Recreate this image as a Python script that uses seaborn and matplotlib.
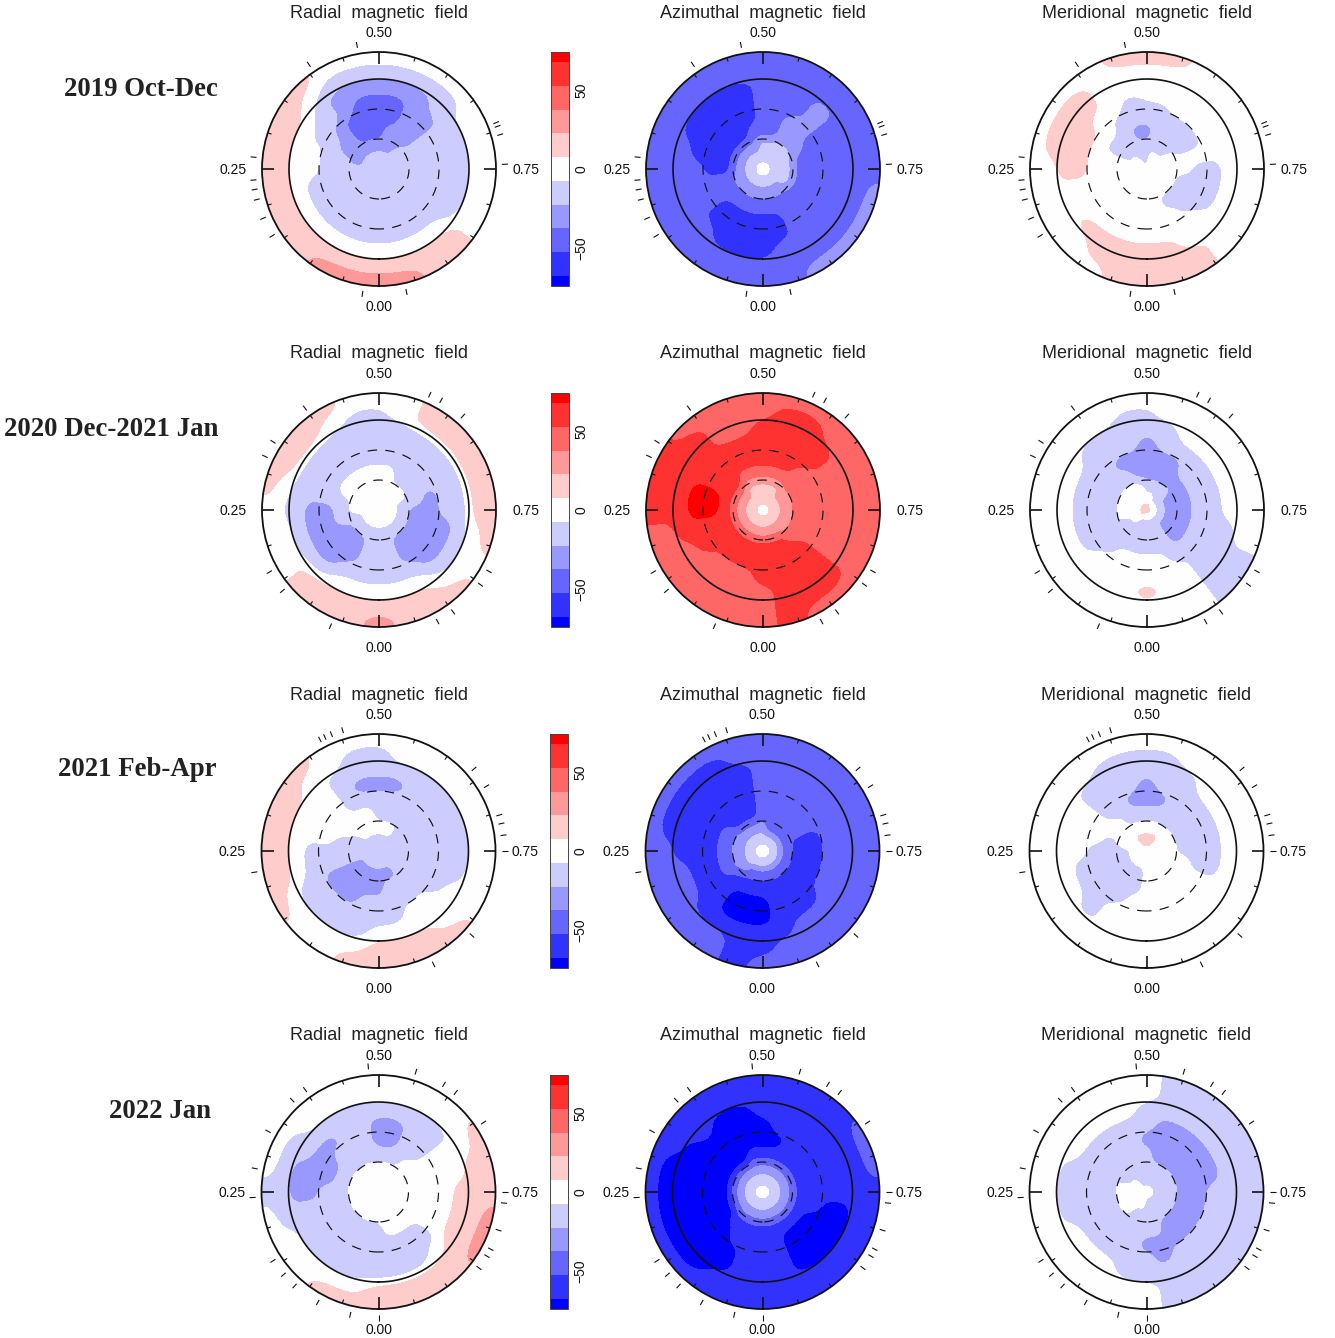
import numpy as np
import matplotlib
matplotlib.use("Agg")
import matplotlib.pyplot as plt
from matplotlib.colors import ListedColormap, BoundaryNorm
from matplotlib.ticker import FixedLocator
import seaborn as sns

sns.set_theme(style="white")
plt.rcParams['font.family'] = ['Liberation Sans', 'DejaVu Sans']

# Field bands in units of 15 G. Each panel: 8 rings (centre to edge), 24 phases (0/24 .. 23/24).
rad19 = [
 [-1,-1,-1,-1,-1,-1,-1,-1,-1,-1,-1,-1,-1,-1,-1,-1,-1,-1,-1,-1,-1,-1,-1,-1],
 [-1,-1,-1,-1,-1,-1,-1,-2,-2,-2,-2,-2,-2,-2,-2,-1,-1,-1,-1,-1,-1,-1,-1,-1],
 [-1,-1,-1,-1,-1,-1,-1,-1,-2,-2,-3,-3,-3,-2,-2,-2,-1,-1,-1,-1,-1,-1,-1,-1],
 [-1,-1,-1,-1,-1,-1,-1,-1,-1,-2,-3,-3,-3,-3,-2,-2,-1,-1,-1,-1,-1,-1,-1,-1],
 [-1,-1,-1,-1,-1,-1, 0, 0,-1,-1,-2,-3,-3,-3,-2,-2,-1,-1,-1,-1,-1,-1,-1,-1],
 [ 0, 0, 0, 0, 0, 0, 0, 0, 0,-1,-2,-2,-2,-2,-2,-1,-1,-1,-1,-1,-1, 0, 0, 0],
 [ 1, 1, 1, 1, 1, 1, 1, 1, 1, 0,-1,-1,-1,-1,-1,-1, 0, 0, 0, 0, 0, 1, 1, 1],
 [ 2, 2, 2, 1, 1, 1, 1, 1, 1, 1, 0, 0, 0, 0, 0, 0, 0, 0, 0, 0, 0, 1, 1, 2],
]
azi19 = [
 [-1,-1,-1,-1,-1,-1,-1,-1,-1,-1,-1,-1,-1,-1,-1,-1,-1,-1,-1,-1,-1,-1,-1,-1],
 [-2,-2,-2,-2,-2,-2,-2,-2,-2,-2,-2,-2,-1,-1,-1,-1,-1,-1,-1,-1,-1,-2,-2,-2],
 [-3,-3,-3,-3,-3,-3,-4,-4,-4,-4,-4,-3,-3,-3,-2,-2,-2,-3,-3,-3,-3,-3,-3,-3],
 [-4,-4,-4,-4,-3,-3,-4,-4,-4,-4,-4,-4,-3,-3,-2,-2,-3,-3,-3,-3,-3,-3,-3,-4],
 [-4,-4,-4,-4,-3,-3,-3,-4,-4,-4,-4,-4,-3,-3,-3,-2,-3,-3,-3,-3,-3,-3,-3,-4],
 [-4,-4,-4,-3,-3,-3,-3,-3,-4,-4,-4,-4,-3,-3,-3,-2,-3,-3,-3,-3,-3,-3,-3,-3],
 [-3,-3,-3,-3,-3,-3,-3,-3,-3,-3,-3,-3,-3,-3,-3,-3,-3,-3,-3,-3,-3,-3,-3,-3],
 [-3,-3,-3,-3,-3,-3,-3,-3,-3,-3,-3,-3,-3,-3,-3,-3,-3,-3,-3,-2,-2,-2,-2,-3],
]
mer19 = [
 [ 0, 0, 0, 0, 0, 0, 0, 0, 0, 0,-1,-1,-1, 0, 0, 0, 0, 0, 0, 0, 0, 0, 0, 0],
 [ 0, 0, 0, 0, 0, 0, 0, 0,-1,-1,-1,-1,-1,-1,-1,-1, 0, 0, 0, 0, 0, 0, 0, 0],
 [ 0, 0, 0, 0, 0, 0, 0, 0,-1,-1,-1,-2,-2,-1,-1,-1,-1, 0, 0,-1,-1,-1,-1, 0],
 [ 0, 0, 0, 0, 0, 0, 0, 0, 0, 0,-1,-1,-1,-1,-1,-1,-1, 0,-1,-1,-1,-1, 0, 0],
 [ 0, 0, 0, 0, 0, 0, 1, 1, 1, 0, 0,-1,-.5,-.5,0, 0, 0, 0,-1,-1,-1, 0, 0, 0],
 [ 1, 1, 1, 1, 0, 0, 1, 1, 1, 1, 0, 0, 0, 0, 0, 0, 0, 0, 0, 0, 0, 0, 0, 1],
 [ 1, 1, 1, 0, 0, 0, 0, 1, 1, 1, 0, 0, 0, 0, 0, 0, 0, 0, 0, 0, 0, 0, 1, 1],
 [ 1, 1, 0, 0, 0, 0, 0, 0, 0, 0, 0, 1, 1, 1, 0, 0, 0, 0, 0, 0, 0, 0, 1, 1],
]
rad20 = [
 [ 0, 0, 0, 0, 0, 0, 0, 0, 0, 0, 0, 0, 0, 0, 0, 0, 0, 0, 0, 0, 0, 0, 0, 0],
 [-1,-1,-1,-1,-1,-1, 0, 0, 0, 0, 0, 0, 0, 0, 0, 0, 0,-1,-1,-1,-1,-1,-1,-1],
 [-1,-1,-2,-2,-2,-1,-1,-1, 0, 0, 0, 0, 0, 0,-1,-1,-1,-1,-2,-2,-2,-2,-2,-1],
 [-1,-1,-2,-2,-2,-2,-2,-1,-1,-1,-1,-1,-1,-1,-1,-1,-1,-2,-2,-2,-2,-2,-2,-1],
 [-1,-1,-1,-2,-2,-2,-2,-1,-1,-1,-1,-1,-1,-1,-1,-1,-1,-1,-1,-2,-2,-2,-1,-1],
 [ 0, 0, 0,-1,-1,-1,-1,-1,-1,-1,-1,-1,-1,-1,-1,-1,-1,-1,-1,-1,-1,-1, 0, 0],
 [ 1, 1, 1, 1, 0, 0,-.5,0, 1, 1, 0,-.7,-.7,0, 1, 1, 1, 1, 1, 0, 0, 0, 1, 1],
 [ 2, 1, 1, 1, 0, 0, 0, 1, 1, 1, 1, 0, 0, 0, 1, 1, 1, 1, 1, 1, 0, 1, 1, 1],
]
azi20 = [
 [ 1, 1, 1, 1, 1, 1, 1, 1, 1, 1, 1, 1, 1, 1, 1, 1, 1, 1, 1, 1, 1, 1, 1, 1],
 [ 2, 2, 2, 2, 2, 2, 2, 2, 2, 2, 1, 1, 1, 1, 1, 2, 2, 2, 2, 2, 2, 2, 2, 2],
 [ 4, 4, 4, 4, 4, 4, 4, 4, 4, 4, 3, 3, 3, 3, 3, 3, 3, 3, 3, 3, 3, 3, 4, 4],
 [ 4, 4, 4, 4, 4, 4, 5, 5, 4, 4, 4, 4, 4, 4, 4, 3, 3, 3, 3, 3, 3, 4, 4, 4],
 [ 4, 3, 3, 3, 4, 4, 5, 5, 4, 4, 4, 4, 4, 4, 4, 4, 3, 3, 3, 3, 3, 4, 4, 4],
 [ 3, 3, 3, 3, 3, 4, 4, 4, 4, 4, 3, 3, 4, 4, 4, 4, 3, 3, 3, 3, 3, 4, 4, 4],
 [ 3, 3, 3, 3, 3, 3, 4, 4, 4, 4, 3, 3, 3, 4, 4, 3, 3, 3, 3, 3, 3, 4, 4, 4],
 [ 3, 3, 3, 3, 3, 3, 4, 4, 4, 3, 3, 3, 3, 3, 3, 3, 3, 3, 3, 3, 3, 3, 3, 4],
]
mer20 = [
 [-1,-1,-1, 0, 0, 0, 0, 0, 0, 0, 0, 0, 0, 0,-1,-1,-1,-1,-1,-1,-1,-1,-1,-1],
 [-1,-1,-1,-1,-1, 0, 0, 0, 0, 0, 0, 0,-1,-1,-1,-1,-2,-2,-2,-2,-2,-2,-1,-1],
 [-1,-1,-1,-1,-1,-1,-1,-1,-1,-1,-1,-2,-2,-2,-2,-2,-2,-2,-2,-2,-2,-2,-1,-1],
 [ 0, 0, 0,-1,-1,-1,-1,-1,-1,-1,-2,-2,-2,-2,-2,-1,-1,-1,-1,-1,-1,-1,-1, 0],
 [ 0, 0, 0, 0,-1,-1,-1,-1,-1,-1,-1,-1,-2,-1,-1,-1,-1,-1,-1,-1,-1,-1, 0, 0],
 [ 1, 0, 0, 0, 0, 0, 0, 0, 0,-1,-1,-1,-1,-1, 0, 0, 0, 0, 0,-1,-1,-1, 0, 0],
 [ 0, 0, 0, 0, 0, 0, 0, 0, 0, 0, 0,-.7,-.7,0, 0, 0, 0, 0, 0, 0,-1,-1, 0, 0],
 [ 0, 0, 0, 0, 0, 0, 0, 0, 0, 0, 0, 0, 0, 0, 0, 0, 0, 0, 0, 0,-1,-1, 0, 0],
]
rad21 = [
 [-1,-1,-1,-1,-1,-1,-1,-1,-1,-1,-1,-1,-1,-1,-1,-1,-1,-1,-1,-1,-1,-1,-1,-1],
 [-2,-2,-2,-2,-2,-1,-1,-1,-1, 0, 0, 0, 0, 0, 0,-1,-1,-1,-1,-1,-1,-1,-2,-2],
 [-2,-2,-2,-2,-2,-1,-1,-1, 0, 0, 0, 0,-1,-1,-1,-1,-1,-1,-1,-1,-1,-1,-1,-1],
 [-1,-1,-2,-2,-2,-1,-1, 0, 0, 0,-1,-1,-1,-1,-1,-1,-1,-1,-1,-1,-1,-1,-1,-1],
 [-1,-1,-1,-1,-1,-1,-1, 0, 0, 0,-1,-2,-2,-2,-1,-1,-1,-1,-1,-1,-1, 0, 0,-1],
 [ 0,-1,-1,-1,-1, 0, 0, 0, 0, 0,-1,-1,-1,-1,-1,-1,-1,-1,-1,-1, 0, 0, 0, 0],
 [ 1, 0, 0, 0, 0, 1, 1, 1, 1, 0, 0,-1,-1, 0, 0, 0, 0, 0, 0, 0, 0, 0, 1, 1],
 [ 1, 1, 0, 0, 1, 1, 1, 1, 1, 1, 0, 0, 0, 0, 0, 0, 0, 0, 0, 0, 0, 1, 1, 1],
]
azi21 = [
 [-1,-1,-1,-1,-1,-1,-1,-1,-1,-1,-1,-1,-1,-1,-1,-1,-1,-1,-1,-1,-1,-1,-1,-1],
 [-3,-3,-3,-2,-2,-2,-2,-2,-2,-2,-2,-2,-2,-3,-3,-3,-3,-3,-3,-3,-3,-3,-3,-3],
 [-4,-4,-4,-4,-3,-3,-3,-3,-3,-4,-4,-4,-3,-3,-3,-3,-3,-4,-4,-4,-4,-4,-4,-4],
 [-5,-5,-5,-4,-4,-4,-4,-4,-4,-4,-4,-4,-3,-3,-3,-3,-3,-4,-4,-4,-4,-4,-4,-4],
 [-5,-5,-5,-4,-4,-4,-4,-4,-4,-4,-4,-4,-3,-3,-3,-3,-3,-3,-3,-3,-3,-4,-4,-4],
 [-4,-4,-4,-4,-3,-3,-4,-4,-4,-4,-4,-4,-3,-3,-3,-3,-3,-3,-3,-3,-3,-3,-3,-4],
 [-4,-4,-3,-3,-3,-3,-3,-4,-4,-4,-4,-3,-3,-3,-3,-3,-3,-3,-3,-3,-3,-3,-3,-3],
 [-3,-4,-3,-3,-3,-3,-3,-3,-3,-3,-3,-3,-3,-3,-3,-3,-3,-3,-3,-3,-3,-3,-3,-3],
]
mer21 = [
 [ 0, 0, 0, 0, 0, 0, 0, 0, 0, 0, 1, 1, 1, 1, 1, 0, 0, 0, 0, 0, 0, 0, 0, 0],
 [ 0,-1,-1,-1,-1,-1,-1, 0, 0, 0, 0, 0, 0, 0, 0, 0, 0, 0, 0, 0, 0, 0, 0, 0],
 [ 0,-1,-1,-1,-1,-1,-1,-1, 0, 0,-1,-1,-1,-1,-1,-1,-1,-1,-1, 0, 0, 0, 0, 0],
 [ 0, 0,-1,-1,-1,-1,-1, 0, 0,-1,-1,-2,-2,-2,-1,-1,-1,-1,-1,-1, 0, 0, 0, 0],
 [ 0, 0, 0,-1,-1,-1, 0, 0, 0,-1,-1,-1,-2,-1,-1,-1,-1,-1,-1,-1, 0, 0, 0, 0],
 [ 0, 0, 0,-1, 0, 0, 0, 0, 0,-1,-1,-1,-1,-1,-1, 0, 0, 0, 0, 0, 0, 0, 0, 0],
 [ 0, 0, 0, 0, 0, 0, 0, 0, 0, 0,-.6,-.7,-.7,-.7,0, 0, 0, 0, 0, 0, 0, 0, 0, 0],
 [ 0, 0, 0, 0, 0, 0, 0, 0, 0, 0, 0, 0, 0, 0, 0, 0, 0, 0, 0, 0, 0, 0, 0, 0],
]
rad22 = [
 [ 0, 0, 0, 0, 0, 0, 0, 0, 0, 0, 0, 0, 0, 0, 0, 0, 0, 0, 0, 0, 0, 0, 0, 0],
 [ 0, 0, 0, 0, 0, 0, 0, 0, 0, 0, 0, 0, 0, 0, 0, 0, 0, 0, 0, 0, 0, 0, 0, 0],
 [-1,-1,-1,-1,-1,-1,-1,-1,-1,-1,-1,-1,-1,-1,-1, 0, 0, 0, 0, 0, 0, 0, 0, 0],
 [-1,-1,-1,-1,-1,-1,-1,-2,-2,-1,-1,-1,-2,-2,-1,-1, 0, 0, 0, 0, 0,-1,-1,-1],
 [-1,-1,-1,-1,-1,-1,-2,-2,-2,-2,-1,-1,-2,-2,-1,-1, 0, 0, 0, 0, 0,-1,-1,-1],
 [-1,-1,-1,-1,-1,-1,-2,-2,-1,-1,-1,-1,-1,-1,-1,-1, 0, 0, 1, 1, 1, 0,-1,-1],
 [ 1, 0, 0, 0, 0,-1,-1,-1,-1, 0, 0, 0, 0, 0, 0, 0, 0, 1, 1, 1, 1, 1, 1, 1],
 [ 1, 1, 1, 0, 0, 0,-1, 0, 0, 0, 0, 0, 0, 0, 0, 0, 1, 1, 1, 2, 2, 1, 1, 1],
]
azi22 = [
 [-1,-1,-1,-1,-1,-1,-1,-1,-1,-1,-1,-1,-1,-1,-1,-1,-1,-1,-1,-1,-1,-1,-1,-1],
 [-2,-2,-2,-2,-2,-2,-2,-2,-2,-2,-2,-2,-2,-2,-2,-2,-2,-2,-2,-2,-2,-2,-2,-2],
 [-4,-4,-4,-4,-5,-5,-5,-5,-5,-5,-5,-4,-4,-4,-4,-4,-4,-4,-4,-4,-4,-4,-4,-4],
 [-4,-4,-4,-5,-5,-5,-5,-5,-5,-5,-5,-5,-5,-5,-4,-4,-4,-4,-4,-4,-5,-5,-5,-4],
 [-4,-4,-5,-5,-5,-5,-5,-5,-5,-5,-5,-5,-5,-4,-4,-4,-4,-4,-4,-5,-5,-5,-5,-4],
 [-4,-4,-5,-5,-5,-5,-5,-5,-5,-4,-5,-5,-4,-4,-4,-4,-4,-4,-4,-5,-5,-5,-5,-4],
 [-4,-4,-4,-5,-5,-5,-5,-5,-4,-4,-4,-4,-4,-4,-4,-4,-4,-4,-4,-4,-4,-4,-4,-4],
 [-4,-4,-4,-4,-4,-4,-4,-4,-4,-4,-4,-4,-4,-4,-4,-4,-3,-3,-4,-4,-4,-4,-4,-4],
]
mer22 = [
 [-1, 0, 0, 0, 0, 0, 0, 0, 0, 0,-1,-1,-1,-1,-1,-1,-1,-1,-1,-1,-1,-1,-1,-1],
 [-1,-1,-1, 0, 0, 0, 0, 0,-1,-1,-1,-1,-1,-1,-1,-1,-1,-1,-1,-1,-1,-1,-1,-1],
 [-1,-1,-1,-1,-1,-1,-1,-1,-1,-1,-1,-1,-1,-2,-2,-2,-2,-2,-2,-2,-2,-2,-2,-1],
 [-2,-1,-1,-1,-1,-1,-1,-1,-1,-1,-1,-1,-2,-2,-2,-2,-2,-2,-2,-2,-2,-2,-2,-2],
 [-1,-1,-1,-1,-1,-1,-1,-1,-1,-1,-1,-1,-1,-2,-2,-2,-2,-2,-1,-1,-1,-1,-1,-2],
 [-1,-1, 0, 0, 0,-1,-1,-1, 0, 0, 0, 0,-1,-1,-1,-1,-1,-1,-1,-1,-1,-1,-1,-1],
 [ 0, 0, 0, 0, 0, 0, 0, 0, 0, 0, 0, 0, 0,-1,-1,-1,-1,-1,-1,-1,-1,-1,-1,-1],
 [ 0, 0, 0, 0, 0, 0, 0, 0, 0, 0, 0, 0, 0,-1,-1,-1,-1,-1,-1,-1,-1,-1,-1,-1],
]

# band at the very centre of each disc
centres_19 = [-1, 0, 0]
centres_20 = [0, 0, 1]
centres_21 = [-1, 0, 0]
centres_22 = [0, 0, 0]

phases_19 = [.965,.021,.161,.186,.211,.224,.236,.265,.406,.472,.690,.695,.706,.744]
phases_20 = [.063,.139,.168,.320,.341,.400,.566,.582,.616,.831,.851,.900,.923]
phases_21 = [.223,.423,.430,.439,.454,.637,.664,.704,.715,.730,.750,.867,.928]
phases_22 = [.000,.036,.080,.116,.136,.158,.243,.280,.330,.380,.401,.487,.548,.587,.605,.657,.750,.764,.799,.825,.835,.853]

row_labels = ["2019 Oct-Dec", "2020 Dec-2021 Jan", "2021 Feb-Apr", "2022 Jan"]
row_label_right = [218, 218, 217, 211]
row_label_y = [89, 430, 770, 1112]
column_titles = ["Radial  magnetic  field", "Azimuthal  magnetic  field", "Meridional  magnetic  field"]
phase_labels = ["0.00", "0.25", "0.50", "0.75"]
band_step = 15.0
band_edges = [-90, -67.5, -52.5, -37.5, -22.5, -7.5, 7.5, 22.5, 37.5, 52.5, 67.5, 90]

panels = [[rad19, azi19, mer19], [rad20, azi20, mer20], [rad21, azi21, mer21], [rad22, azi22, mer22]]
centres = [centres_19, centres_20, centres_21, centres_22]
row_phases = [phases_19, phases_20, phases_21, phases_22]
centre_x = [[379, 763, 1147], [379, 763, 1147], [378.5, 762.5, 1146.5], [378.5, 762.5, 1146.5]]
centre_y = [169, 510, 851, 1192]
bar_x = [551, 551, 550, 550]

W, H = 1335, 1338
R = 117.0
ring_r = np.array([12.0, 22.5, 37.5, 52.5, 67.5, 82.5, 97.5, 112.5])
palette = sns.blend_palette(["#0000ff", "#ffffff", "#ff0000"], 11)
cmap = ListedColormap(palette)
INK = "#111111"
KERNEL = np.array([1, 2, 3, 2, 1]) / 9.0

fig = plt.figure(figsize=(W / 100, H / 100), dpi=100, facecolor="white")


def px_axes(cx, cy, half_w, half_h, **kw):
    return fig.add_axes([(cx - half_w) / W, 1 - (cy + half_h) / H, 2 * half_w / W, 2 * half_h / H], **kw)


def px_text(x, y, s, **kw):
    fig.text(x / W, 1 - y / H, s, **kw)


def field_grid(levels, centre):
    """Rounded field on a fine polar grid, so the band edges come out as soft blobs."""
    g = np.array(levels, dtype=float) * band_step
    r = np.concatenate([[0.0], ring_r, [125.0]])
    z = np.vstack([np.full(24, centre * band_step), g, g[-1]])
    t_fine = np.arange(96) / 4.0
    z = np.array([np.interp(t_fine, np.arange(25), np.append(row, row[0])) for row in z])
    r_fine = np.arange(0, 125.1, 2.5)
    z = np.array([np.interp(r_fine, r, col) for col in z.T]).T
    # light rounding: wraps round in phase, clamps in radius
    z = np.array([np.convolve(np.r_[row[-2:], row, row[:2]], KERNEL, mode="valid") for row in z])
    z = np.array([np.convolve(np.r_[col[0], col[0], col, col[-1], col[-1]], KERNEL, mode="valid") for col in z.T]).T
    z = np.hstack([z, z[:, :1]])
    theta = np.arange(97) * 2 * np.pi / 96
    return theta, r_fine, z


def draw_disc(ax, levels, centre, obs):
    theta, r, z = field_grid(levels, centre)
    ax.set_theta_zero_location("S")
    ax.set_theta_direction(-1)
    ax.contourf(theta, r, z, levels=band_edges, cmap=cmap,
                norm=BoundaryNorm(band_edges, cmap.N))
    circ = np.linspace(0, 2 * np.pi, 361)
    ax.plot(circ, np.full(361, 90.0), color=INK, lw=1.2)
    for rr in (60.0, 30.0):
        ax.plot(circ, np.full(361, rr), color=INK, lw=0.85, dashes=(8, 7))
    for p in np.arange(20) * 0.05:
        major = abs((p * 4) - round(p * 4)) < 1e-6
        ax.plot([2 * np.pi * p] * 2, [105.0 if major else 113.0, 117.0], color=INK,
                lw=1.2 if major else 0.8, solid_capstyle="butt")
    for p in obs:
        ax.plot([2 * np.pi * p] * 2, [123.0, 129.0], color=INK, lw=0.8,
                clip_on=False, solid_capstyle="butt")
    ax.set_rlim(0, R)
    ax.set_xticks([])
    ax.set_yticks([])
    ax.grid(False)
    ax.spines["polar"].set_linewidth(1.3)
    ax.spines["polar"].set_color(INK)


for i, row in enumerate(panels):
    cy = centre_y[i]
    for j, levels in enumerate(row):
        cx = centre_x[i][j]
        ax = px_axes(cx, cy, R, R, projection="polar")
        draw_disc(ax, levels, centres[i][j], row_phases[i])
        px_text(cx, cy - 156, column_titles[j], ha="center", va="center", fontsize=13, color="#222222")
        px_text(cx, cy + 138, phase_labels[0], ha="center", va="center", fontsize=10, color=INK)
        px_text(cx, cy - 136, phase_labels[2], ha="center", va="center", fontsize=10, color=INK)
        px_text(cx - 146, cy + 1, phase_labels[1], ha="center", va="center", fontsize=10, color=INK)
        px_text(cx + 147, cy + 1, phase_labels[3], ha="center", va="center", fontsize=10, color=INK)
    px_text(row_label_right[i], row_label_y[i], row_labels[i], ha="right", va="center",
            fontsize=19.3, fontweight="bold", family=["Liberation Serif", "DejaVu Serif"], color="#222222")
    # colour bar
    cax = px_axes(bar_x[i] + 9, cy, 9, 117)
    sm = plt.cm.ScalarMappable(norm=BoundaryNorm(band_edges, cmap.N), cmap=cmap)
    cb = fig.colorbar(sm, cax=cax, spacing="proportional", orientation="vertical")
    cax.set_ylim(-74, 74)
    cb.set_ticks([-50, 0, 50])
    cax.yaxis.set_minor_locator(FixedLocator(np.arange(-70, 71, 10)))
    cax.tick_params(axis="y", which="major", left=True, right=True, direction="in",
                    length=7, width=0.8, color="#333333", labelsize=10, pad=4)
    cax.tick_params(axis="y", which="minor", left=True, right=True, direction="in",
                    length=3, width=0.7, color="#333333")
    cb.set_ticklabels(["\u221250", "0", "50"])
    for t in cax.get_yticklabels():
        t.set_rotation(90)
        t.set_va("center")
        t.set_color(INK)
    cb.outline.set_linewidth(0.7)
    cb.outline.set_edgecolor("#444444")

fig.savefig("out.png", dpi=100, facecolor="white")
